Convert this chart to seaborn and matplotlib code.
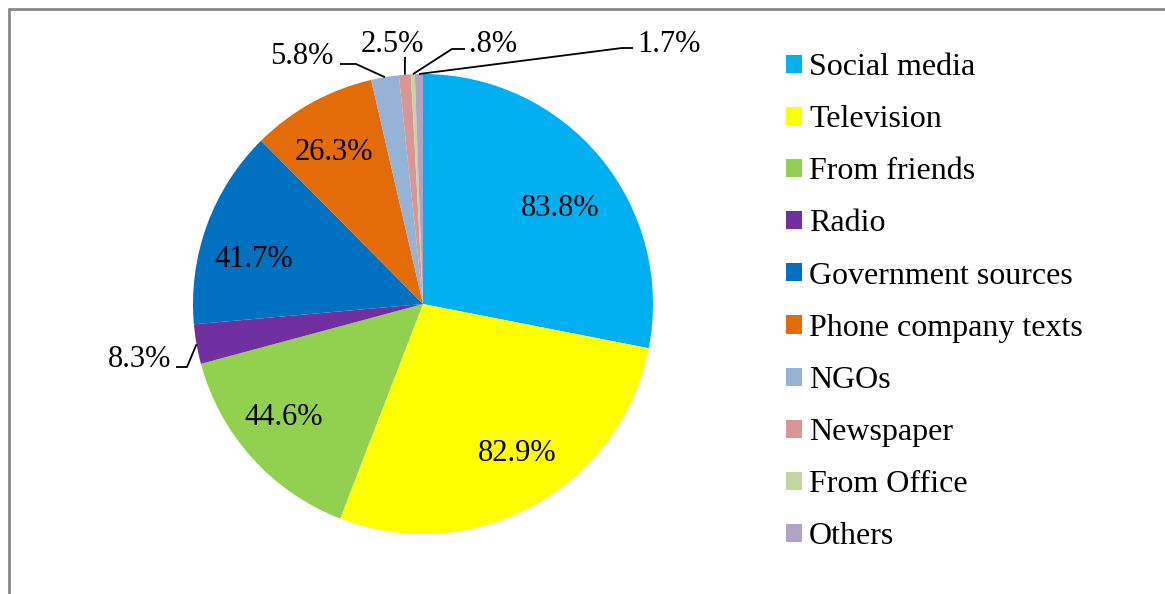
import numpy as np
import matplotlib
matplotlib.use("Agg")
import matplotlib.pyplot as plt
import seaborn as sns

# Datos del gráfico
fuentes = ["Social media", "Television", "From friends", "Radio",
           "Government sources", "Phone company texts", "NGOs",
           "Newspaper", "From Office", "Others"]
valores = [83.8, 82.9, 44.6, 8.3, 41.7, 26.3, 5.8, 2.5, 0.8, 1.7]
etiquetas = ["83.8%", "82.9%", "44.6%", "8.3%", "41.7%", "26.3%",
             "5.8%", "2.5%", ".8%", "1.7%"]
colores_hex = ["#00B0F0", "#FFFF00", "#92D050", "#7030A0", "#0070C0",
               "#E36C09", "#95B3D7", "#D99694", "#C3D69B", "#B3A2C7"]

sns.set_theme(style="white")
plt.rcParams["font.family"] = ["Liberation Serif", "DejaVu Serif"]
plt.rcParams["text.color"] = "black"
colores = sns.color_palette(colores_hex)

fig = plt.figure(figsize=(11.65, 5.94), dpi=100)
ax = fig.add_axes([0, 0, 1, 1])

# centro del pastel en (423, 304) px, radio 230 px
cx, cy, R = 423, 304, 230


def px(x, y):
    return (x - cx) / R, (cy - y) / R


cunas, _ = ax.pie(valores, colors=colores, startangle=90, counterclock=False,
                  radius=1.0, center=(0, 0), frame=True,
                  wedgeprops=dict(linewidth=0))
ax.set_xlim((0 - cx) / R, (1165 - cx) / R)
ax.set_ylim((cy - 594) / R, (cy - 0) / R)
ax.set_aspect("auto")
ax.axis("off")

fs = 22

# etiquetas interiores (con pequeño ajuste en px, como en Excel)
ajustes = {0: (2, 16), 1: (10, -4), 2: (-9, -3), 4: (-5, 16), 5: (-5, 2)}
for i, (dx, dy) in ajustes.items():
    w = cunas[i]
    ang = np.deg2rad((w.theta1 + w.theta2) / 2)
    ax.text(0.76 * np.cos(ang) + dx / R, 0.76 * np.sin(ang) - dy / R, etiquetas[i],
            ha="center", va="center", fontsize=fs, color="black")

# etiquetas exteriores con líneas guía: (texto px, alineación, inicio px, codo px)
exteriores = {
    3: ((171, 360), "right", (176, 367), (187, 367)),
    6: ((333, 57), "right", (340, 64), (356, 64)),
    7: ((392, 44), "center", (405, 57), (405, 57)),
    8: ((469, 44), "left", (465, 49), (452, 49)),
    9: ((637, 44), "left", (633, 48), (622, 48)),
}
for i, (tpos, ha, p0, p1) in exteriores.items():
    w = cunas[i]
    ang = np.deg2rad((w.theta1 + w.theta2) / 2)
    tx, ty = px(*tpos)
    ax.text(tx, ty, etiquetas[i], ha=ha, va="center", fontsize=fs, color="black")
    a = px(*p0)
    b = px(*p1)
    ax.plot([a[0], b[0], np.cos(ang)], [a[1], b[1], np.sin(ang)],
            color="black", linewidth=1.3, solid_capstyle="butt")

# leyenda
leg = ax.legend(cunas, fuentes, loc="upper left",
                bbox_to_anchor=(786 / 1165, 1 - 53 / 594),
                bbox_transform=fig.transFigure, frameon=False,
                fontsize=23, handlelength=0.5, handleheight=0.5,
                handletextpad=0.22, labelspacing=0.725, borderpad=0,
                borderaxespad=0)
for t in leg.get_texts():
    t.set_color("black")

# borde del área del gráfico
fig.add_artist(plt.Line2D([8.5 / 1165, 8.5 / 1165], [0, 1 - 8.5 / 594],
                          transform=fig.transFigure, color="#898989", linewidth=2))
fig.add_artist(plt.Line2D([8.5 / 1165, 1], [1 - 8.5 / 594, 1 - 8.5 / 594],
                          transform=fig.transFigure, color="#898989", linewidth=2))

fig.savefig("out.png", dpi=100, facecolor="white")
